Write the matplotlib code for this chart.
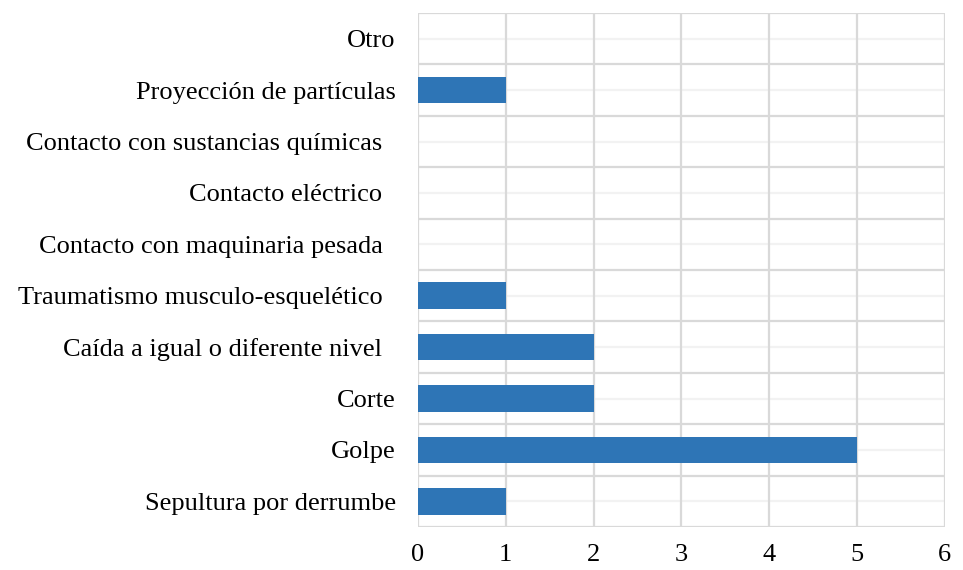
import matplotlib
matplotlib.use("Agg")
import matplotlib.pyplot as plt
import numpy as np

categories = ["Sepultura por derrumbe", "Golpe", "Corte", "Caída a igual o diferente nivel  ",
              "Traumatismo musculo-esquelético  ", "Contacto con maquinaria pesada  ",
              "Contacto eléctrico  ", "Contacto con sustancias químicas  ",
              "Proyección de partículas", "Otro"]
values = [1, 5, 2, 2, 1, 0, 0, 0, 1, 0]
xticks = [0, 1, 2, 3, 4, 5, 6]

plt.rcParams['font.family'] = ['Liberation Serif', 'DejaVu Serif']

fig = plt.figure(figsize=(9.63, 5.70), dpi=100)
ax = fig.add_axes([0.434, 0.0754, 0.547, 0.9018])

y = np.arange(len(categories))
ax.barh(y, values, height=0.52, color='#2E75B6', zorder=3)

ax.set_xlim(0, 6)
ax.set_ylim(-0.5, len(categories) - 0.5)
ax.set_xticks(xticks)
ax.set_xticklabels([str(t) for t in xticks])
ax.set_yticks(y)
ax.set_yticklabels(categories)

# gridlines
for xv in xticks:
    ax.axvline(xv, color='#D9D9D9', lw=1.6, zorder=1)
for b in np.arange(-0.5, len(categories), 1.0):
    ax.axhline(b, color='#D9D9D9', lw=1.6, zorder=1)
for c in y:
    ax.axhline(c, color='#F2F2F2', lw=1.6, zorder=0.5)

for s in ax.spines.values():
    s.set_visible(False)
ax.tick_params(axis='both', length=0, labelsize=19, colors='black')
ax.tick_params(axis='y', pad=16)
ax.tick_params(axis='x', pad=12)

fig.savefig("out.png", dpi=100)
